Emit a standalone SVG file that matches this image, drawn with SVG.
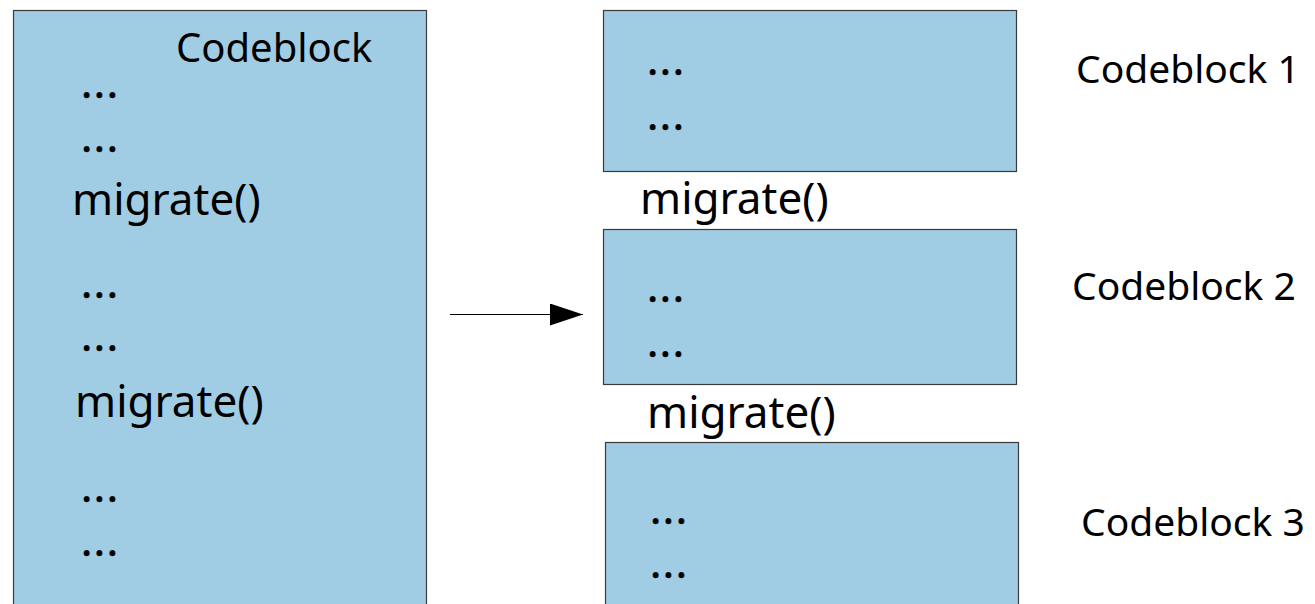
<svg xmlns="http://www.w3.org/2000/svg" width="1315" height="604" viewBox="0 0 1315 604">
  <defs>
    <style>
      .box { fill: #a1cde4; stroke: #3a3a3a; stroke-width: 1.2; }
      .t { font-family: "Noto Sans", "Open Sans", sans-serif; fill: #000; }
      .dots { font-family: "Noto Sans", "Open Sans", sans-serif; font-size: 42px; letter-spacing: 1.6px; fill: #000; stroke: #000; stroke-width: 0.6; }
      .mig { font-size: 44px; }
      .lbl { font-size: 39px; }
    </style>
    <marker id="arrow" markerWidth="34" markerHeight="22" refX="33" refY="11" orient="auto" markerUnits="userSpaceOnUse">
      <path d="M0,0 L33,11 L0,22 Z" fill="#000"/>
    </marker>
  </defs>
  <rect width="1315" height="604" fill="#fff"/>

  <g id="codeblock-original">
    <rect class="box" x="13.5" y="10.5" width="413" height="610"/>
    <text class="t" x="176" y="62" font-size="40">Codeblock</text>
    <text class="dots" x="81" y="98">...</text>
    <text class="dots" x="81" y="152">...</text>
    <text class="t mig" x="72" y="215">migrate()</text>
    <text class="dots" x="81" y="298">...</text>
    <text class="dots" x="81" y="351">...</text>
    <text class="t mig" x="75" y="417">migrate()</text>
    <text class="dots" x="81" y="502">...</text>
    <text class="dots" x="81" y="556">...</text>
  </g>

  <g id="codeblock-1">
    <rect class="box" x="603.5" y="10.5" width="413" height="161"/>
    <text class="dots" x="647" y="75">...</text>
    <text class="dots" x="647" y="130">...</text>
  </g>

  <g id="migrate-1">
    <text class="t mig" x="640" y="214">migrate()</text>
  </g>

  <g id="codeblock-2">
    <rect class="box" x="603.5" y="229.5" width="413" height="155"/>
    <text class="dots" x="647" y="302">...</text>
    <text class="dots" x="647" y="357">...</text>
  </g>

  <g id="migrate-2">
    <text class="t mig" x="647" y="428">migrate()</text>
  </g>

  <g id="codeblock-3">
    <rect class="box" x="605.5" y="442.5" width="413" height="180"/>
    <text class="dots" x="650" y="524">...</text>
    <text class="dots" x="650" y="578">...</text>
  </g>

  <g id="label-1"><text class="t lbl" x="1076" y="83">Codeblock 1</text></g>
  <g id="label-2"><text class="t lbl" x="1072" y="300">Codeblock 2</text></g>
  <g id="label-3"><text class="t lbl" x="1081" y="536">Codeblock 3</text></g>

  <g id="connectors">
    <line x1="450" y1="314.5" x2="583" y2="314.5" stroke="#000" stroke-width="1.2" marker-end="url(#arrow)"/>
  </g>
</svg>
